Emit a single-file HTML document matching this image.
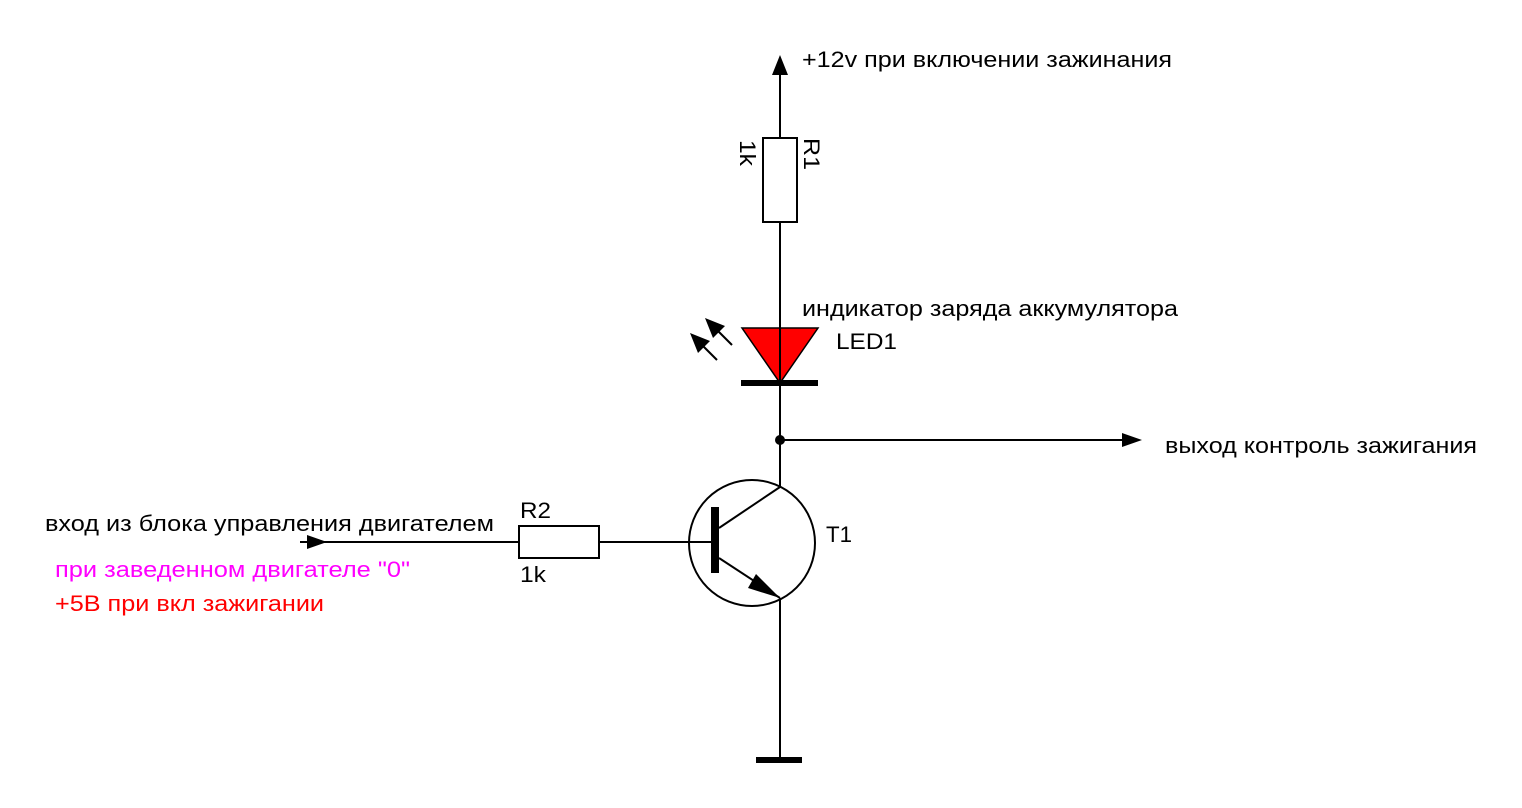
<!DOCTYPE html>
<html><head><meta charset="utf-8"><style>
body{margin:0;background:#fff}
svg{display:block}
text{font-family:"Liberation Sans","Noto Sans CJK SC",sans-serif;font-size:22px;fill:#000}
</style></head><body>
<svg width="1522" height="808" viewBox="0 0 1522 808">
<g stroke="#000" stroke-width="2" fill="none">
<line x1="780" y1="75" x2="780" y2="138"/>
<line x1="780" y1="222" x2="780" y2="487"/>
<line x1="780" y1="598" x2="780" y2="757"/>
<rect x="763" y="138" width="34" height="84" fill="#fff"/>
<rect x="519" y="526" width="80" height="32" fill="#fff"/>
<line x1="300" y1="542" x2="519" y2="542"/>
<line x1="599" y1="542" x2="713" y2="542"/>
<line x1="780" y1="440" x2="1125" y2="440"/>
<circle cx="752" cy="543" r="63"/>
<line x1="719" y1="528" x2="780" y2="487"/>
<line x1="719" y1="558" x2="780" y2="598"/>
<line x1="717" y1="360" x2="698" y2="341"/>
<line x1="732" y1="345" x2="713" y2="326"/>
</g>
<polygon points="742,328 818,328 780,383" fill="#f00" stroke="#000" stroke-width="1.5"/>
<line x1="780" y1="322" x2="780" y2="390" stroke="#000" stroke-width="2"/>
<rect x="741" y="380" width="77" height="6" fill="#000"/>
<rect x="711" y="507" width="8" height="66" fill="#000"/>
<rect x="756" y="757" width="46" height="6" fill="#000"/>
<circle cx="780" cy="440" r="5" fill="#000"/>
<polygon points="780,55 772,75 788,75" fill="#000"/>
<polygon points="1142,440 1122,433 1122,447" fill="#000"/>
<polygon points="327,542 307,535 307,549" fill="#000"/>
<polygon points="780,598 756,574 748,588" fill="#000"/>
<polygon points="690,333 710,341 698,353" fill="#000"/>
<polygon points="705,318 725,326 713,338" fill="#000"/>
<text x="802" y="67" textLength="370" lengthAdjust="spacingAndGlyphs">+12v при включении зажинания</text>
<text x="802" y="316" textLength="376" lengthAdjust="spacingAndGlyphs">индикатор заряда аккумулятора</text>
<text x="836" y="349" textLength="61" lengthAdjust="spacingAndGlyphs">LED1</text>
<text x="1165" y="453" textLength="312" lengthAdjust="spacingAndGlyphs">выход контроль зажигания</text>
<text x="45" y="531" textLength="449" lengthAdjust="spacingAndGlyphs">вход из блока управления двигателем</text>
<text x="55" y="577" textLength="355" lengthAdjust="spacingAndGlyphs" style="fill:#f0f">при заведенном двигателе "0"</text>
<text x="55" y="611" textLength="269" lengthAdjust="spacingAndGlyphs" style="fill:#f00">+5В при вкл зажигании</text>
<text x="520" y="518" textLength="31" lengthAdjust="spacingAndGlyphs">R2</text>
<text x="520" y="582" textLength="26" lengthAdjust="spacingAndGlyphs">1k</text>
<text x="826" y="542" textLength="26" lengthAdjust="spacingAndGlyphs">T1</text>
<text transform="translate(804,138) rotate(90)" textLength="32" lengthAdjust="spacingAndGlyphs">R1</text>
<text transform="translate(740,140) rotate(90)" textLength="26" lengthAdjust="spacingAndGlyphs">1k</text>
</svg>
</body></html>
